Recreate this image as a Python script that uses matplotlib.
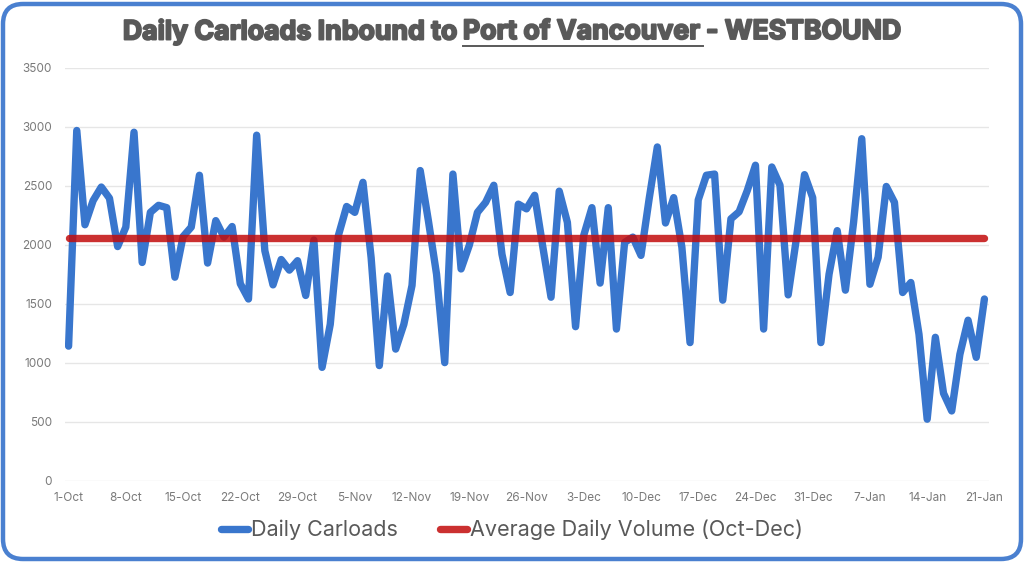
import numpy as np
import matplotlib
matplotlib.use("Agg")
import matplotlib.pyplot as plt
import matplotlib.patheffects as pe
from matplotlib.patches import FancyBboxPatch
from matplotlib.transforms import IdentityTransform

# values, one per day from 1-Oct to 21-Jan
carloads = [1140, 2970, 2170, 2375, 2490, 2395, 1985, 2150, 2955, 1850,
            2275, 2335, 2315, 1725, 2070, 2150, 2590, 1845, 2205, 2065,
            2155, 1670, 1540, 2930, 1950, 1660, 1875, 1785, 1865, 1570,
            2040, 960, 1325, 2080, 2325, 2275, 2530, 1890, 975, 1735,
            1115, 1325, 1655, 2630, 2205, 1750, 1000, 2600, 1795, 1995,
            2275, 2360, 2505, 1920, 1595, 2345, 2305, 2420, 1980, 1555,
            2455, 2190, 1305, 2080, 2315, 1675, 2315, 1285, 2020, 2065,
            1910, 2390, 2830, 2185, 2400, 1980, 1170, 2380, 2590, 2600,
            1530, 2220, 2280, 2460, 2675, 1285, 2660, 2505, 1575, 2050,
            2595, 2400, 1170, 1750, 2120, 1615, 2190, 2900, 1665, 1895,
            2495, 2360, 1595, 1680, 1240, 520, 1215, 740, 590, 1070,
            1360, 1045, 1540]
avg_volume = 2055
date_labels = ["1-Oct", "8-Oct", "15-Oct", "22-Oct", "29-Oct", "5-Nov", "12-Nov", "19-Nov", "26-Nov",
               "3-Dec", "10-Dec", "17-Dec", "24-Dec", "31-Dec", "7-Jan", "14-Jan", "21-Jan"]
y_ticks = [0, 500, 1000, 1500, 2000, 2500, 3000, 3500]

FONT = "Inter"
W, H = 1024, 562
BLUE = "#3976cd"
RED = (194 / 255, 12 / 255, 12 / 255)

fig = plt.figure(figsize=(W / 100, H / 100), dpi=100)
fig.patch.set_facecolor("white")

# rounded blue frame around the whole chart
frame = FancyBboxPatch((3, 3), W - 6, H - 7, boxstyle="round,pad=0,rounding_size=20",
                       transform=IdentityTransform(), fc="white", ec="#4a80d0", lw=3.2, zorder=-1)
fig.add_artist(frame)

ax = fig.add_axes([64.5 / W, 1 - 480.5 / H, 924 / W, 412.5 / H])
ax.patch.set_alpha(0)
x = np.arange(len(carloads))
ax.plot(x, carloads, color=BLUE, lw=5.3, solid_joinstyle="round", solid_capstyle="round",
        label="Daily Carloads", zorder=3)
ax.plot(x, [avg_volume] * len(x), color=RED, alpha=0.85, lw=5.3, solid_capstyle="round",
        label="Average Daily Volume (Oct-Dec)", zorder=4)

ax.set_xlim(-0.5, len(x) - 0.5)
ax.set_ylim(0, 3500)
ax.set_yticks(y_ticks)
ax.set_xticks(x[::7])
ax.set_xticklabels(date_labels)
ax.grid(axis="y", color="#e6e6e6", lw=1)
ax.set_axisbelow(True)
for s in ax.spines.values():
    s.set_visible(False)
ax.tick_params(length=0, labelsize=8.5, labelcolor="#7a7a7a", pad=8)
ax.tick_params(axis="y", pad=9)
for lab in ax.get_xticklabels() + ax.get_yticklabels():
    lab.set_family(FONT)

leg = ax.legend(loc="center", bbox_to_anchor=(512, H - 530), bbox_transform=IdentityTransform(), ncol=2,
                frameon=False, handlelength=1.26, handletextpad=0.15, columnspacing=1.95,
                prop={"family": FONT, "size": 15.5})
for t in leg.get_texts():
    t.set_color("#595959")

# title in three pieces so the middle one can be underlined
pieces = ["Daily Carloads Inbound to", "Port of Vancouver", "- WESTBOUND"]
renderer = fig.canvas.get_renderer()
effects = [pe.withStroke(linewidth=1.4, foreground="#595959")]
texts = [fig.text(0, 1 - 32 / H, p, family=FONT, weight="bold", size=19.2, color="#595959",
                  va="center", ha="left", path_effects=effects) for p in pieces]
gap = 7
widths = [t.get_window_extent(renderer).width for t in texts]
cur = 512 - (sum(widths) + gap * 2) / 2
for t, w in zip(texts, widths):
    t.set_x(cur / W)
    cur += w + gap
left = texts[1].get_position()[0]
fig.add_artist(plt.Line2D([left, left + (widths[1] + 4) / W], [1 - 45.5 / H] * 2,
                          color="#595959", lw=1.4, transform=fig.transFigure))

fig.savefig("out.png", dpi=100)
